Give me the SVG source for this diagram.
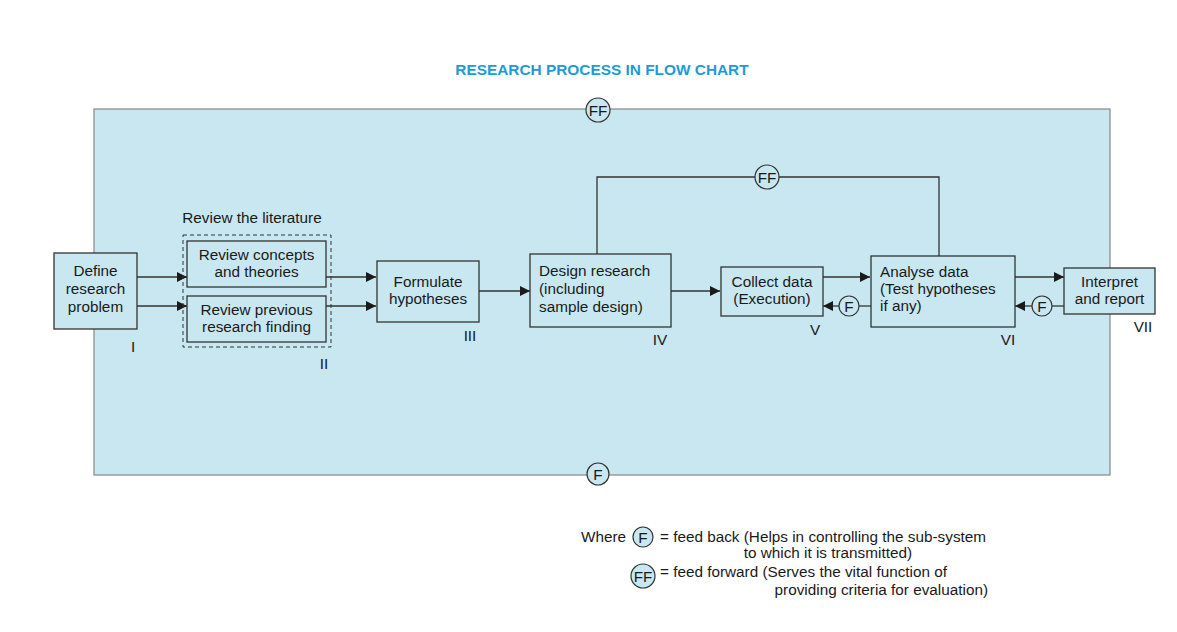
<svg xmlns="http://www.w3.org/2000/svg" width="1177" height="632" viewBox="0 0 1177 632">
<defs>
<marker id="ah" viewBox="0 0 10 10" refX="10" refY="5" markerWidth="10" markerHeight="10" markerUnits="userSpaceOnUse" orient="auto">
<path d="M0,0 L10,5 L0,10 z" fill="#1a1a1a"/>
</marker>
<style>
.t{font-family:"Liberation Sans",Arial,sans-serif;font-size:15.3px;fill:#1a1a1a}
.m{text-anchor:middle}
.box{fill:#c8e7f0;stroke:#333;stroke-width:1.3}
.ln{fill:none;stroke:#333;stroke-width:1.3}
.ar{fill:none;stroke:#333;stroke-width:1.3;marker-end:url(#ah)}
.c{fill:#c8e7f0;stroke:#333;stroke-width:1.2}
</style>
</defs>
<rect width="1177" height="632" fill="#fff"/>
<text x="602" y="75" class="m" style="font-family:'Liberation Sans',Arial,sans-serif;font-size:15.4px;font-weight:bold;fill:#1e9bd7">RESEARCH PROCESS IN FLOW CHART</text>
<rect x="94" y="109" width="1016" height="366" fill="#c8e7f0" stroke="#888" stroke-width="1.2"/>
<g id="connectors">
<line class="ar" x1="137" y1="277" x2="187" y2="277"/>
<line class="ar" x1="137" y1="306" x2="187" y2="306"/>
<line class="ar" x1="326" y1="277" x2="376" y2="277"/>
<line class="ar" x1="326" y1="306" x2="376" y2="306"/>
<line class="ar" x1="479" y1="291" x2="530" y2="291"/>
<line class="ar" x1="671" y1="291" x2="720" y2="291"/>
<line class="ar" x1="823" y1="277" x2="870" y2="277"/>
<line class="ar" x1="1015" y1="277" x2="1064" y2="277"/>
<polyline class="ln" points="597,254 597,177 939,177 939,256"/>
<line class="ln" x1="871" y1="306" x2="859" y2="306"/>
<line class="ar" x1="839" y1="306" x2="823" y2="306"/>
<line class="ln" x1="1064" y1="306" x2="1052" y2="306"/>
<line class="ar" x1="1032" y1="306" x2="1015" y2="306"/>
</g>
<g id="ff-top"><circle class="c" cx="598" cy="110" r="12"/><text x="598" y="115.5" class="t m">FF</text></g>
<g id="f-bottom"><circle class="c" cx="598" cy="474" r="11"/><text x="598" y="479.5" class="t m">F</text></g>
<g id="ff-mid"><circle class="c" cx="767" cy="177" r="12"/><text x="767" y="182.5" class="t m">FF</text></g>
<g id="f-v"><circle class="c" cx="849" cy="306" r="10"/><text x="849" y="311.5" class="t m">F</text></g>
<g id="f-vi"><circle class="c" cx="1042" cy="306" r="10"/><text x="1042" y="311.5" class="t m">F</text></g>
<g id="n1">
<rect class="box" x="54" y="253" width="83" height="76"/>
<text x="95.5" y="276" class="t m">Define</text>
<text x="95.5" y="294" class="t m">research</text>
<text x="95.5" y="312" class="t m">problem</text>
<text x="133" y="352" class="t m">I</text>
</g>
<g id="n2">
<text x="252" y="223" class="t m">Review the literature</text>
<rect x="183" y="235" width="148" height="112" fill="none" stroke="#333" stroke-width="1" stroke-dasharray="4,3"/>
<rect class="box" x="187" y="241" width="139" height="46"/>
<text x="256.5" y="260" class="t m">Review concepts</text>
<text x="256.5" y="277" class="t m">and theories</text>
<rect class="box" x="187" y="296" width="139" height="46"/>
<text x="256.5" y="315" class="t m">Review previous</text>
<text x="256.5" y="332" class="t m">research finding</text>
<text x="324" y="369" class="t m">II</text>
</g>
<g id="n3">
<rect class="box" x="377" y="261" width="102" height="61"/>
<text x="428" y="287" class="t m">Formulate</text>
<text x="428" y="304" class="t m">hypotheses</text>
<text x="470" y="341" class="t m">III</text>
</g>
<g id="n4">
<rect class="box" x="530" y="254" width="141" height="73"/>
<text x="539" y="276" class="t">Design research</text>
<text x="539" y="294" class="t">(including</text>
<text x="539" y="312" class="t">sample design)</text>
<text x="660" y="345" class="t m">IV</text>
</g>
<g id="n5">
<rect class="box" x="721" y="267" width="102" height="49"/>
<text x="772" y="287" class="t m">Collect data</text>
<text x="772" y="304" class="t m">(Execution)</text>
<text x="815" y="335" class="t m">V</text>
</g>
<g id="n6">
<rect class="box" x="871" y="256" width="144" height="71"/>
<text x="880" y="277" class="t">Analyse data</text>
<text x="880" y="294" class="t">(Test hypotheses</text>
<text x="880" y="311" class="t">if any)</text>
<text x="1008" y="345" class="t m">VI</text>
</g>
<g id="n7">
<rect class="box" x="1064" y="268" width="91" height="46"/>
<text x="1109.5" y="287" class="t m">Interpret</text>
<text x="1109.5" y="304" class="t m">and report</text>
<text x="1143" y="332" class="t m">VII</text>
</g>
<g id="legend">
<text x="626" y="542" class="t" text-anchor="end">Where</text>
<circle class="c" cx="643" cy="537" r="10"/><text x="643" y="542.5" class="t m">F</text>
<text x="660" y="542" class="t">= feed back (Helps in controlling the sub-system</text>
<text x="912" y="558" class="t" text-anchor="end">to which it is transmitted)</text>
<circle class="c" cx="643" cy="576" r="12"/><text x="643" y="581.5" class="t m">FF</text>
<text x="660" y="577" class="t">= feed forward (Serves the vital function of</text>
<text x="988" y="595" class="t" text-anchor="end">providing criteria for evaluation)</text>
</g>
</svg>
